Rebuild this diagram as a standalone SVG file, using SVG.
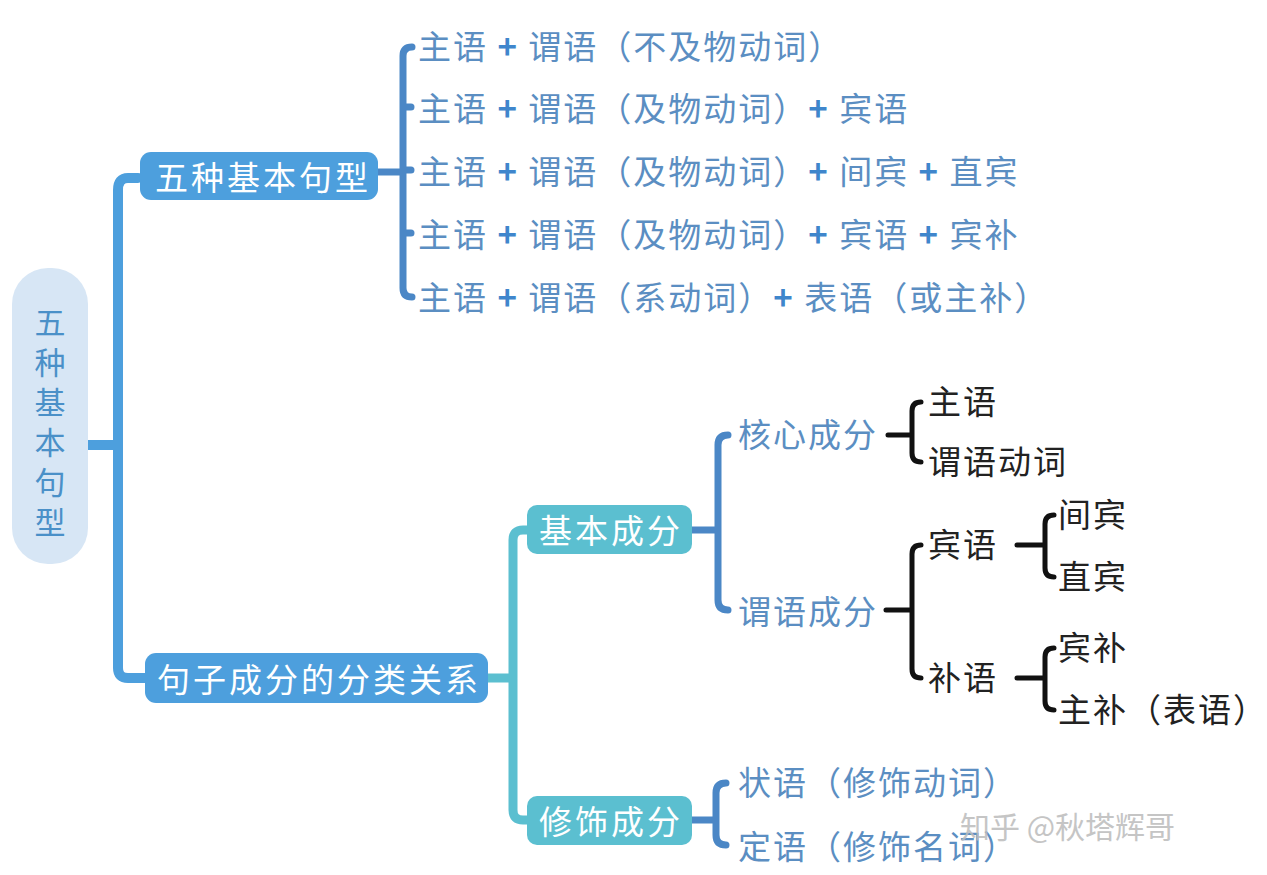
<svg xmlns="http://www.w3.org/2000/svg" width="1267" height="875" viewBox="0 0 1267 875">
<style>
text{font-family:"Noto Sans CJK SC","Noto Sans",sans-serif;dominant-baseline:central}
.w{fill:#fff;font-size:33px;letter-spacing:3px}
.b{fill:#5b8ec2;font-size:33px;letter-spacing:2px}
.k{fill:#222;font-size:33px;letter-spacing:2px}
.p{font-weight:bold;fill:#3f86cc}
.c1{fill:none;stroke:#4d9fdd;stroke-width:10;stroke-linecap:round}
.c2{fill:none;stroke:#4b87c6;stroke-width:7;stroke-linecap:round}
.c3{fill:none;stroke:#5bbfd0;stroke-width:9;stroke-linecap:round}
.c4{fill:none;stroke:#111;stroke-width:5;stroke-linecap:round}
</style>
<rect width="1267" height="875" fill="#fff"/>
<g id="connectors">
<path class="c1" d="M88 445H118M138 178H128Q118 178 118 190V668Q118 678 128 678H145"/>
<path class="c2" d="M378 172H403M412 47Q403 47 403 56V288Q403 297 412 297M403 107H411M403 170H411M403 233H411"/>
<path class="c3" d="M488 678H513M527 530H523Q513 530 513 540V810Q513 820 523 820H527"/>
<path class="c2" d="M692 530H718M728 435Q718 435 718 445V600Q718 610 728 610"/>
<path class="c2" d="M692 820H716M726 783Q716 783 716 793V835Q716 845 726 845"/>
<path class="c4" d="M888 435H912M921 402Q912 402 912 411V453Q912 462 921 462"/>
<path class="c4" d="M886 610H912M921 545Q912 545 912 554V669Q912 678 921 678"/>
<path class="c4" d="M1017 545H1045M1054 515Q1045 515 1045 524V568Q1045 577 1054 577"/>
<path class="c4" d="M1017 678H1045M1054 648Q1045 648 1045 657V701Q1045 710 1054 710"/>
</g>
<g id="root"><rect x="12" y="268" width="76" height="296" rx="36" fill="#d7e6f5"/>
<g fill="#4a90c8" font-size="31" text-anchor="middle"><text x="50" y="320">五</text><text x="50" y="360">种</text><text x="50" y="400">基</text><text x="50" y="440">本</text><text x="50" y="480">句</text><text x="50" y="520">型</text></g></g>
<g id="n1"><rect x="140" y="152" width="238" height="48" rx="11" fill="#4d9fdd"/><text class="w" x="155" y="176">五种基本句型</text></g>
<g id="n2"><rect x="145" y="653" width="343" height="50" rx="11" fill="#4d9fdd"/><text class="w" x="157" y="678">句子成分的分类关系</text></g>
<g id="s1" class="b">
<text x="418" y="45">主语 <tspan class="p">+</tspan> 谓语（不及物动词）</text>
<text x="418" y="107">主语 <tspan class="p">+</tspan> 谓语（及物动词）<tspan class="p">+</tspan> 宾语</text>
<text x="418" y="170">主语 <tspan class="p">+</tspan> 谓语（及物动词）<tspan class="p">+</tspan> 间宾 <tspan class="p">+</tspan> 直宾</text>
<text x="418" y="233">主语 <tspan class="p">+</tspan> 谓语（及物动词）<tspan class="p">+</tspan> 宾语 <tspan class="p">+</tspan> 宾补</text>
<text x="418" y="296">主语 <tspan class="p">+</tspan> 谓语（系动词）<tspan class="p">+</tspan> 表语（或主补）</text>
</g>
<g id="n3"><rect x="527" y="505" width="165" height="49" rx="10" fill="#5bbfd0"/><text class="w" x="539" y="529">基本成分</text></g>
<g id="n4"><rect x="527" y="796" width="165" height="49" rx="10" fill="#5bbfd0"/><text class="w" x="539" y="820">修饰成分</text></g>
<g id="n5" class="b"><text x="738" y="433">核心成分</text><text x="738" y="610">谓语成分</text><text x="738" y="781">状语（修饰动词）</text><text x="738" y="845">定语（修饰名词）</text></g>
<g id="n6" class="k"><text x="928" y="400">主语</text><text x="928" y="460">谓语动词</text><text x="928" y="543">宾语</text><text x="928" y="676">补语</text>
<text x="1058" y="513">间宾</text><text x="1058" y="575">直宾</text><text x="1058" y="646">宾补</text><text x="1058" y="708">主补（表语）</text></g>
<text x="960" y="825" font-size="30" fill="#bbb" opacity="0.85">知乎 @秋塔辉哥</text>
</svg>
